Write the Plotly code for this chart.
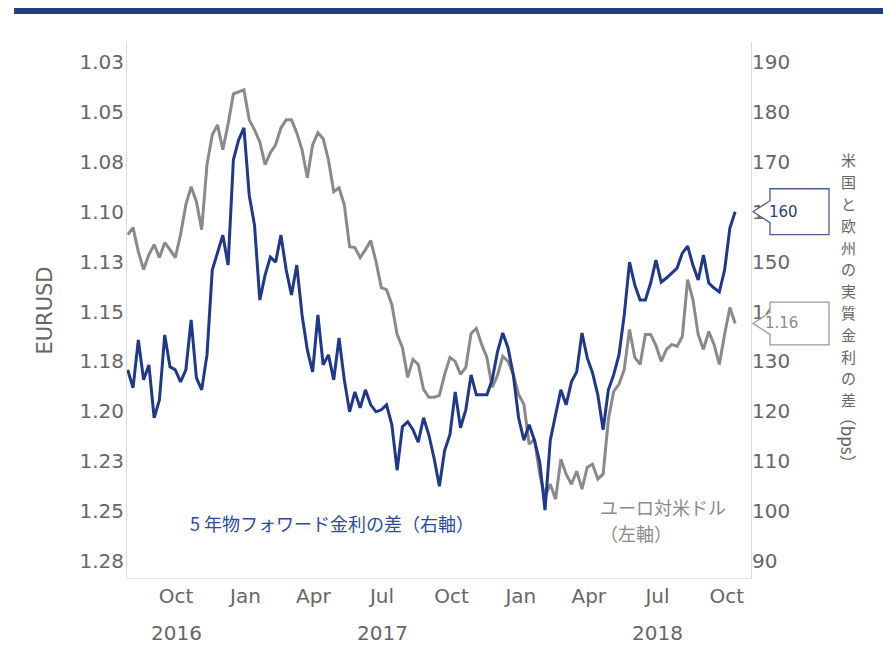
import pandas as pd
import plotly.graph_objects as go

# Weekly observations, Fridays from late July 2016 to mid-October 2018
week_ending = pd.date_range("2016-07-29", periods=116, freq="7D")

# EUR/USD spot (left axis, inverted)
eurusd = [
    1.1115, 1.108, 1.120, 1.129, 1.1215, 1.1165, 1.123, 1.1155, 1.119, 1.123,
    1.1115, 1.0965, 1.0875, 1.095, 1.109, 1.0765, 1.0615, 1.0565, 1.069, 1.056,
    1.041, 1.040, 1.039, 1.054, 1.059, 1.065, 1.0765, 1.0705, 1.0665, 1.058,
    1.054, 1.054, 1.0605, 1.069, 1.083, 1.0665, 1.0605, 1.0635, 1.074, 1.090,
    1.088, 1.0965, 1.1175, 1.118, 1.123, 1.119, 1.1145, 1.125, 1.138, 1.139,
    1.1465, 1.1615, 1.168, 1.183, 1.174, 1.1765, 1.189, 1.193, 1.193, 1.192,
    1.1815, 1.173, 1.175, 1.1815, 1.178, 1.161, 1.1585, 1.1665, 1.173, 1.188,
    1.182, 1.1725, 1.175, 1.1815, 1.1915, 1.1965, 1.2165, 1.214, 1.2315, 1.243,
    1.2365, 1.244, 1.224, 1.2315, 1.2365, 1.230, 1.239, 1.228, 1.2265, 1.234,
    1.2315, 1.204, 1.190, 1.1865, 1.179, 1.159, 1.173, 1.1765, 1.1615, 1.1615,
    1.167, 1.175, 1.169, 1.1665, 1.1675, 1.1625, 1.134, 1.144, 1.1615, 1.169,
    1.160, 1.1665, 1.1765, 1.1615, 1.148, 1.156,
]

# US minus euro-area 5y forward real rate differential, bps (right axis)
fwd_spread = [
    128.3, 124.7, 134.3, 126.3, 129.3, 118.7, 122.3, 135.3, 128.9, 128.3,
    125.9, 128.3, 138.3, 126.7, 124.3, 131.3, 148.3, 151.9, 155.3, 149.3,
    170.4, 174.4, 176.8, 163.3, 157.3, 142.3, 147.3, 150.9, 149.9, 155.3,
    148.3, 143.3, 149.3, 139.3, 132.3, 127.9, 139.3, 129.3, 131.3, 126.3,
    134.7, 126.3, 119.9, 123.9, 120.7, 124.3, 121.3, 119.9, 120.3, 121.3,
    117.3, 108.2, 116.9, 117.9, 116.3, 113.8, 118.7, 115.3, 110.6, 105.0,
    112.2, 115.3, 123.9, 116.7, 120.3, 127.3, 123.3, 123.3, 123.3, 126.3,
    131.9, 135.7, 132.7, 127.3, 118.7, 114.2, 117.3, 114.2, 109.8, 100.2,
    114.2, 119.3, 124.3, 121.3, 125.9, 127.9, 135.7, 130.7, 127.7, 123.3,
    116.3, 124.3, 127.3, 131.3, 139.3, 149.9, 145.3, 142.3, 142.3, 145.7,
    150.3, 145.9, 146.7, 147.7, 148.7, 151.7, 153.1, 149.3, 146.3, 151.3,
    145.7, 144.7, 143.9, 148.3, 156.7, 160.0,
]

left_ticks = [1.025, 1.05, 1.075, 1.10, 1.125, 1.15, 1.175, 1.20, 1.225, 1.25, 1.275]
left_tick_labels = ["1.03", "1.05", "1.08", "1.10", "1.13", "1.15",
                    "1.18", "1.20", "1.23", "1.25", "1.28"]
month_ticks = ["2016-10-01", "2017-01-01", "2017-04-01", "2017-07-01", "2017-10-01",
               "2018-01-01", "2018-04-01", "2018-07-01", "2018-10-01"]
month_labels = ["Oct", "Jan", "Apr", "Jul", "Oct", "Jan", "Apr", "Jul", "Oct"]
year_positions = ["2016-10-01", "2017-07-01", "2018-07-01"]
year_labels = ["2016", "2017", "2018"]

BLUE = "#1f388a"
GRAY = "#8a8a8a"
TEXT = "#666666"
TICK_FONT = dict(family="DejaVu Sans", size=20, color=TEXT)
JP = "Noto Sans CJK JP"

fig = go.Figure()
fig.add_trace(go.Scatter(
    x=week_ending, y=eurusd, mode="lines", yaxis="y",
    line=dict(color=GRAY, width=3), name="EURUSD",
))
fig.add_trace(go.Scatter(
    x=week_ending, y=fwd_spread, mode="lines", yaxis="y2",
    line=dict(color=BLUE, width=3), name="5y fwd spread",
))

annotations = []
for pos, lab in zip(year_positions, year_labels):
    annotations.append(dict(
        x=pos, xref="x", y=-0.103, yref="paper", text=lab, showarrow=False,
        font=TICK_FONT, xanchor="center", yanchor="middle",
    ))

# left axis title
annotations.append(dict(
    x=-0.153, y=0.498, xref="paper", yref="paper", text="EURUSD",
    textangle=-90, showarrow=False, font=dict(family="DejaVu Sans", size=21, color=TEXT),
))

# right axis title in vertical writing: one glyph per row, then rotated unit
jp_title = "米国と欧州の実質金利の差"
row_step = 21.8 / 536  # paper units between stacked glyphs
top_row = 0.780
for i, ch in enumerate(jp_title):
    annotations.append(dict(
        x=1.1555, y=top_row - i * row_step, xref="paper", yref="paper", text=ch,
        showarrow=False, font=dict(family=JP, size=15, color=TEXT),
        xanchor="center", yanchor="middle", borderpad=0,
    ))
annotations.append(dict(
    x=1.1555, y=0.258, xref="paper", yref="paper", text="（bps）",
    textangle=90, showarrow=False, font=dict(family=JP, size=17, color=TEXT),
    xanchor="center", yanchor="middle",
))

# series labels
annotations.append(dict(
    x=0.0978, y=0.1026, xref="paper", yref="paper", text="5 年物フォワード金利の差（右軸）",
    showarrow=False, font=dict(family=JP, size=18, color="#2b4a9b"),
    xanchor="left", yanchor="middle",
))
annotations.append(dict(
    x=0.7548, y=0.1325, xref="paper", yref="paper", text="ユーロ対米ドル",
    showarrow=False, font=dict(family=JP, size=18, color=GRAY),
    xanchor="left", yanchor="middle",
))
annotations.append(dict(
    x=0.7548, y=0.084, xref="paper", yref="paper", text="（左軸）",
    showarrow=False, font=dict(family=JP, size=18, color=GRAY),
    xanchor="left", yanchor="middle",
))

# end-value callouts
last_spread = fwd_spread[-1]
last_fx = eurusd[-1]
xt, xl, xr = 1.0032, 1.0304, 1.125


def callout(v, half, notch):
    return (f"M {xt},{v} L {xl},{v - notch} L {xl},{v - half} L {xr},{v - half} "
            f"L {xr},{v + half} L {xl},{v + half} L {xl},{v + notch} Z")


shapes = [
    dict(type="path", xref="paper", yref="y2", path=callout(last_spread, 4.6, 2.2),
         line=dict(color="#4d5d8c", width=1.3), fillcolor="white", layer="above"),
    dict(type="path", xref="paper", yref="y", path=callout(last_fx, 0.0107, 0.0055),
         line=dict(color="#9a9a9a", width=1.3), fillcolor="white", layer="above"),
    # header rule
    dict(type="rect", xref="paper", yref="paper", x0=-0.181, x1=1.22, y0=1.0522, y1=1.0634,
         line=dict(width=0), fillcolor="#233d84", layer="above"),
]
annotations.append(dict(
    x=1.078, y=last_spread, xref="paper", yref="y2", text=f"{last_spread:.0f}",
    showarrow=False, font=dict(family="DejaVu Sans", size=15, color="#2c3e7a"),
))
annotations.append(dict(
    x=1.078, y=last_fx, xref="paper", yref="y", text=f"{last_fx:.2f}",
    showarrow=False, font=dict(family="DejaVu Sans", size=15, color="#8a8a8a"),
))

fig.update_layout(
    width=883, height=668,
    margin=dict(l=127, r=132, t=42, b=90),
    paper_bgcolor="white", plot_bgcolor="white",
    showlegend=False,
    xaxis=dict(
        range=["2016-07-28", "2018-11-02"], tickvals=month_ticks, ticktext=month_labels,
        tickfont=TICK_FONT, showgrid=False, zeroline=False, ticks="",
        showline=True, linecolor="#e2e2e2", linewidth=1,
    ),
    yaxis=dict(
        range=[1.2835, 1.015], tickvals=left_ticks, ticktext=left_tick_labels,
        tickfont=TICK_FONT, showgrid=False, zeroline=False, ticks="",
        showline=True, linecolor="#dcdcdc", linewidth=1, ticklabelstandoff=-2,
    ),
    yaxis2=dict(
        range=[86.6, 194.0], overlaying="y", side="right", dtick=10, tick0=90,
        tickfont=TICK_FONT, showgrid=False, zeroline=False, ticks="",
        showline=True, linecolor="#dcdcdc", linewidth=1, ticklabelstandoff=-4,
    ),
    shapes=shapes,
    annotations=annotations,
)

fig.write_html("out.html")
